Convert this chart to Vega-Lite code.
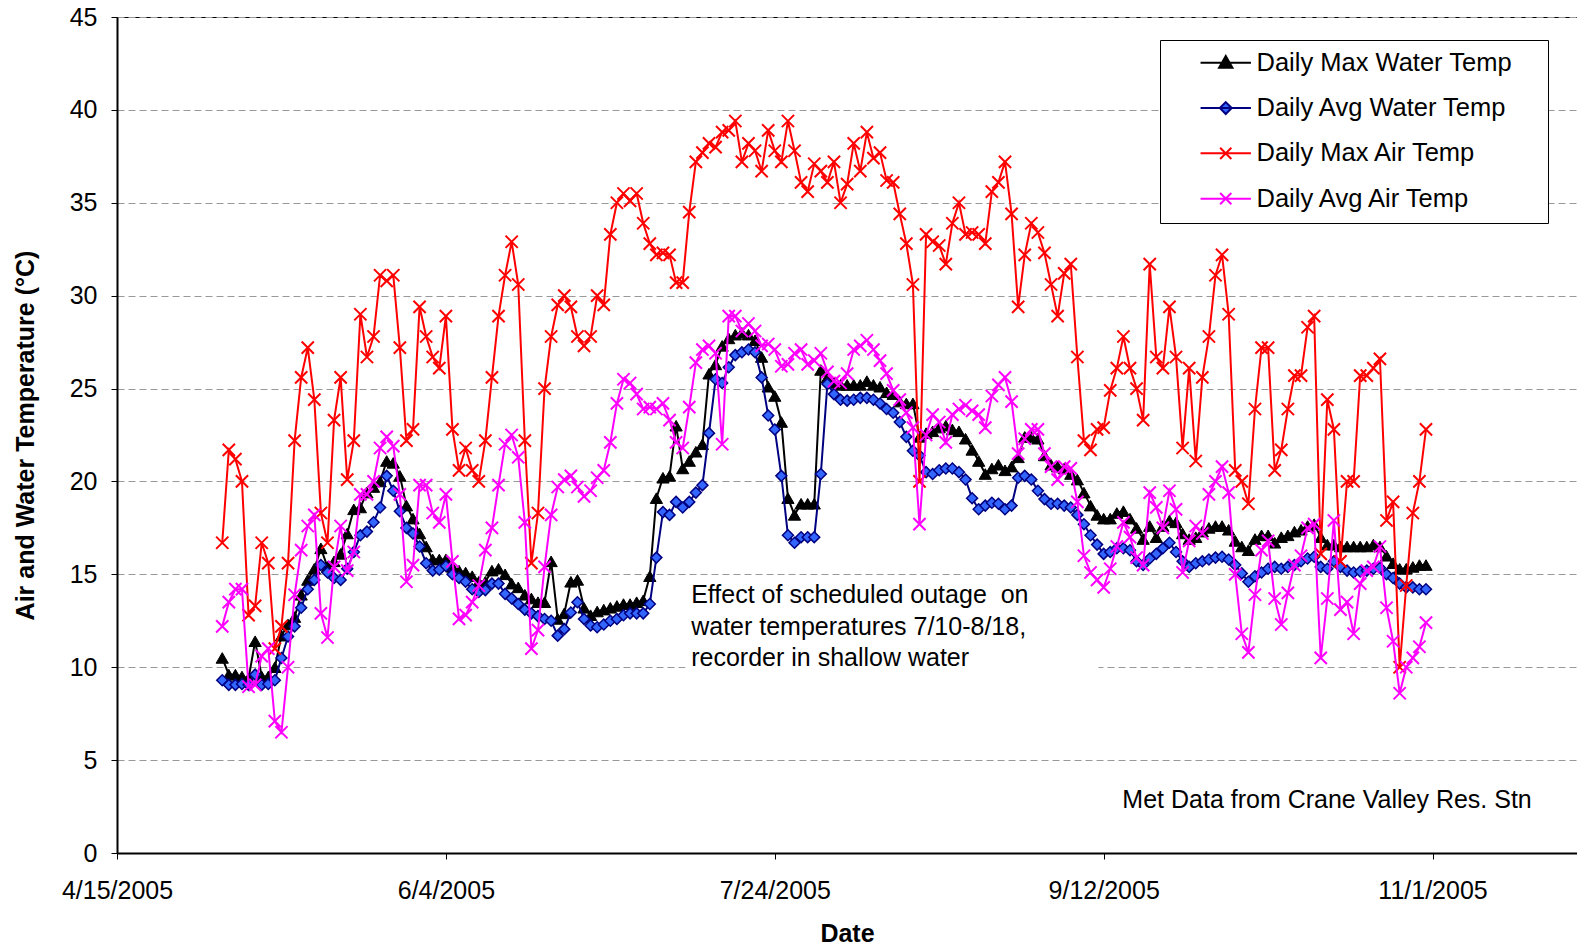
{
  "$schema": "https://vega.github.io/schema/vega-lite/v6.json",
  "width": 1460,
  "height": 836,
  "autosize": {"type": "none"},
  "padding": {"left": 117, "top": 17, "right": 0, "bottom": 93},
  "background": "#ffffff",
  "config": {
    "font": "Liberation Sans",
    "view": {"stroke": "#000000", "strokeWidth": 1},
    "axis": {"labelFont": "Liberation Sans", "labelFontSize": 25, "labelColor": "#000000", "titleFont": "Liberation Sans", "titleFontSize": 25, "titleFontWeight": "bold", "titleColor": "#000000", "domainColor": "#000000", "domainWidth": 2, "tickColor": "#000000", "tickWidth": 1, "tickSize": 6},
    "axisX": {"grid": false, "labelPadding": 19, "titlePadding": 18, "labelOverlap": false, "labelFlush": false},
    "axisY": {"grid": true, "gridColor": "#999999", "gridDash": [7, 4], "gridWidth": 1, "labelPadding": 14, "titlePadding": 31},
    "legend": {
      "orient": "none", "legendX": 1043, "legendY": 23,
      "strokeColor": "#000000", "fillColor": "#ffffff", "padding": 10,
      "labelFont": "Liberation Sans", "labelFontSize": 25.5, "labelColor": "#000000", "labelLimit": 600,
      "symbolSize": 196, "symbolStrokeWidth": 2, "symbolOpacity": 1, "symbolOffset": 43, "labelOffset": 18, "rowPadding": 18.3
    }
  },
  "layer": [
    {
      "data": {"values": [{}]},
      "mark": {"type": "rect", "fill": "#ffffff", "stroke": null},
      "encoding": {
        "x": {"datum": {"year": 2005, "month": 7, "date": 10, "hours": 10}, "type": "temporal"},
        "x2": {"datum": {"year": 2005, "month": 9, "date": 11, "hours": 5}},
        "y": {"datum": 9.3, "type": "quantitative"},
        "y2": {"datum": 14.85}
      }
    },
    {
      "data": {"values": [{}]},
      "mark": {"type": "text", "align": "left", "baseline": "alphabetic", "font": "Liberation Sans", "fontSize": 25, "lineHeight": 31.3, "color": "#000000"},
      "encoding": {
        "x": {"datum": {"year": 2005, "month": 7, "date": 11, "hours": 7}, "type": "temporal"},
        "y": {"datum": 13.44, "type": "quantitative"},
        "text": {"value": ["Effect of scheduled outage\u00a0 on", "water temperatures 7/10-8/18,", "recorder in shallow water"]}
      }
    },
    {
      "data": {"values": [{}]},
      "mark": {"type": "text", "align": "right", "baseline": "middle", "font": "Liberation Sans", "fontSize": 25, "color": "#000000"},
      "encoding": {
        "x": {"datum": {"year": 2005, "month": 11, "date": 16, "hours": 2}, "type": "temporal"},
        "y": {"datum": 2.87, "type": "quantitative"},
        "text": {"value": "Met Data from Crane Valley Res. Stn"}
      }
    },
    {
      "data": {
        "format": {"parse": {"date": "date:'%Y-%m-%d'"}},
        "values": [
{"date":"2005-05-01","Daily Max Water Temp":10.5,"Daily Avg Water Temp":9.3,"Daily Max Air Temp":16.7,"Daily Avg Air Temp":12.2},
{"date":"2005-05-02","Daily Max Water Temp":9.6,"Daily Avg Water Temp":9.05,"Daily Max Air Temp":21.7,"Daily Avg Air Temp":13.5},
{"date":"2005-05-03","Daily Max Water Temp":9.6,"Daily Avg Water Temp":9.05,"Daily Max Air Temp":21.2,"Daily Avg Air Temp":14.2},
{"date":"2005-05-04","Daily Max Water Temp":9.5,"Daily Avg Water Temp":9.1,"Daily Max Air Temp":20.0,"Daily Avg Air Temp":14.2},
{"date":"2005-05-05","Daily Max Water Temp":9.4,"Daily Avg Water Temp":9.05,"Daily Max Air Temp":12.8,"Daily Avg Air Temp":8.95},
{"date":"2005-05-06","Daily Max Water Temp":11.4,"Daily Avg Water Temp":9.6,"Daily Max Air Temp":13.3,"Daily Avg Air Temp":9.05},
{"date":"2005-05-07","Daily Max Water Temp":9.5,"Daily Avg Water Temp":9.05,"Daily Max Air Temp":16.7,"Daily Avg Air Temp":10.6},
{"date":"2005-05-08","Daily Max Water Temp":9.5,"Daily Avg Water Temp":9.1,"Daily Max Air Temp":15.6,"Daily Avg Air Temp":11.0},
{"date":"2005-05-09","Daily Max Water Temp":10.0,"Daily Avg Water Temp":9.3,"Daily Max Air Temp":11.0,"Daily Avg Air Temp":7.1},
{"date":"2005-05-10","Daily Max Water Temp":11.7,"Daily Avg Water Temp":10.5,"Daily Max Air Temp":12.2,"Daily Avg Air Temp":6.5},
{"date":"2005-05-11","Daily Max Water Temp":12.3,"Daily Avg Water Temp":11.65,"Daily Max Air Temp":15.6,"Daily Avg Air Temp":10.0},
{"date":"2005-05-12","Daily Max Water Temp":12.7,"Daily Avg Water Temp":12.2,"Daily Max Air Temp":22.2,"Daily Avg Air Temp":13.9},
{"date":"2005-05-13","Daily Max Water Temp":13.9,"Daily Avg Water Temp":13.2,"Daily Max Air Temp":25.6,"Daily Avg Air Temp":16.3},
{"date":"2005-05-14","Daily Max Water Temp":14.7,"Daily Avg Water Temp":14.2,"Daily Max Air Temp":27.2,"Daily Avg Air Temp":17.6},
{"date":"2005-05-15","Daily Max Water Temp":15.3,"Daily Avg Water Temp":14.7,"Daily Max Air Temp":24.4,"Daily Avg Air Temp":18.2},
{"date":"2005-05-16","Daily Max Water Temp":16.4,"Daily Avg Water Temp":15.5,"Daily Max Air Temp":18.3,"Daily Avg Air Temp":12.9},
{"date":"2005-05-17","Daily Max Water Temp":15.4,"Daily Avg Water Temp":15.1,"Daily Max Air Temp":16.7,"Daily Avg Air Temp":11.6},
{"date":"2005-05-18","Daily Max Water Temp":15.7,"Daily Avg Water Temp":14.8,"Daily Max Air Temp":23.3,"Daily Avg Air Temp":15.4},
{"date":"2005-05-19","Daily Max Water Temp":16.1,"Daily Avg Water Temp":14.7,"Daily Max Air Temp":25.6,"Daily Avg Air Temp":17.6},
{"date":"2005-05-20","Daily Max Water Temp":17.2,"Daily Avg Water Temp":15.3,"Daily Max Air Temp":20.1,"Daily Avg Air Temp":15.2},
{"date":"2005-05-21","Daily Max Water Temp":18.5,"Daily Avg Water Temp":16.2,"Daily Max Air Temp":22.2,"Daily Avg Air Temp":16.2},
{"date":"2005-05-22","Daily Max Water Temp":18.6,"Daily Avg Water Temp":17.1,"Daily Max Air Temp":29.0,"Daily Avg Air Temp":19.3},
{"date":"2005-05-23","Daily Max Water Temp":19.4,"Daily Avg Water Temp":17.3,"Daily Max Air Temp":26.7,"Daily Avg Air Temp":19.3},
{"date":"2005-05-24","Daily Max Water Temp":19.7,"Daily Avg Water Temp":17.8,"Daily Max Air Temp":27.8,"Daily Avg Air Temp":20.0},
{"date":"2005-05-25","Daily Max Water Temp":20.0,"Daily Avg Water Temp":18.6,"Daily Max Air Temp":31.1,"Daily Avg Air Temp":21.8},
{"date":"2005-05-26","Daily Max Water Temp":21.1,"Daily Avg Water Temp":20.3,"Daily Max Air Temp":30.8,"Daily Avg Air Temp":22.4},
{"date":"2005-05-27","Daily Max Water Temp":21.0,"Daily Avg Water Temp":19.5,"Daily Max Air Temp":31.1,"Daily Avg Air Temp":21.9},
{"date":"2005-05-28","Daily Max Water Temp":20.3,"Daily Avg Water Temp":18.4,"Daily Max Air Temp":27.2,"Daily Avg Air Temp":19.3},
{"date":"2005-05-29","Daily Max Water Temp":18.7,"Daily Avg Water Temp":17.5,"Daily Max Air Temp":22.2,"Daily Avg Air Temp":14.6},
{"date":"2005-05-30","Daily Max Water Temp":18.0,"Daily Avg Water Temp":17.2,"Daily Max Air Temp":22.8,"Daily Avg Air Temp":15.5},
{"date":"2005-05-31","Daily Max Water Temp":17.2,"Daily Avg Water Temp":16.5,"Daily Max Air Temp":29.4,"Daily Avg Air Temp":19.8},
{"date":"2005-06-01","Daily Max Water Temp":16.5,"Daily Avg Water Temp":15.6,"Daily Max Air Temp":27.8,"Daily Avg Air Temp":19.8},
{"date":"2005-06-02","Daily Max Water Temp":15.8,"Daily Avg Water Temp":15.2,"Daily Max Air Temp":26.7,"Daily Avg Air Temp":18.3},
{"date":"2005-06-03","Daily Max Water Temp":15.8,"Daily Avg Water Temp":15.25,"Daily Max Air Temp":26.1,"Daily Avg Air Temp":17.8},
{"date":"2005-06-04","Daily Max Water Temp":15.8,"Daily Avg Water Temp":15.45,"Daily Max Air Temp":28.9,"Daily Avg Air Temp":19.3},
{"date":"2005-06-05","Daily Max Water Temp":15.4,"Daily Avg Water Temp":15.0,"Daily Max Air Temp":22.8,"Daily Avg Air Temp":15.7},
{"date":"2005-06-06","Daily Max Water Temp":15.2,"Daily Avg Water Temp":14.8,"Daily Max Air Temp":20.6,"Daily Avg Air Temp":12.6},
{"date":"2005-06-07","Daily Max Water Temp":15.1,"Daily Avg Water Temp":14.6,"Daily Max Air Temp":21.8,"Daily Avg Air Temp":12.8},
{"date":"2005-06-08","Daily Max Water Temp":14.9,"Daily Avg Water Temp":14.2,"Daily Max Air Temp":20.6,"Daily Avg Air Temp":13.5},
{"date":"2005-06-09","Daily Max Water Temp":14.6,"Daily Avg Water Temp":14.05,"Daily Max Air Temp":20.0,"Daily Avg Air Temp":14.4},
{"date":"2005-06-10","Daily Max Water Temp":14.6,"Daily Avg Water Temp":14.15,"Daily Max Air Temp":22.2,"Daily Avg Air Temp":16.3},
{"date":"2005-06-11","Daily Max Water Temp":15.2,"Daily Avg Water Temp":14.5,"Daily Max Air Temp":25.6,"Daily Avg Air Temp":17.5},
{"date":"2005-06-12","Daily Max Water Temp":15.3,"Daily Avg Water Temp":14.5,"Daily Max Air Temp":28.9,"Daily Avg Air Temp":19.8},
{"date":"2005-06-13","Daily Max Water Temp":15.0,"Daily Avg Water Temp":13.95,"Daily Max Air Temp":31.1,"Daily Avg Air Temp":22.0},
{"date":"2005-06-14","Daily Max Water Temp":14.5,"Daily Avg Water Temp":13.7,"Daily Max Air Temp":32.9,"Daily Avg Air Temp":22.5},
{"date":"2005-06-15","Daily Max Water Temp":14.3,"Daily Avg Water Temp":13.4,"Daily Max Air Temp":30.6,"Daily Avg Air Temp":21.3},
{"date":"2005-06-16","Daily Max Water Temp":13.9,"Daily Avg Water Temp":13.1,"Daily Max Air Temp":22.2,"Daily Avg Air Temp":17.8},
{"date":"2005-06-17","Daily Max Water Temp":13.7,"Daily Avg Water Temp":12.9,"Daily Max Air Temp":15.6,"Daily Avg Air Temp":11.0},
{"date":"2005-06-18","Daily Max Water Temp":13.5,"Daily Avg Water Temp":12.75,"Daily Max Air Temp":18.3,"Daily Avg Air Temp":12.0},
{"date":"2005-06-19","Daily Max Water Temp":13.5,"Daily Avg Water Temp":12.6,"Daily Max Air Temp":25.0,"Daily Avg Air Temp":15.4},
{"date":"2005-06-20","Daily Max Water Temp":15.7,"Daily Avg Water Temp":12.5,"Daily Max Air Temp":27.8,"Daily Avg Air Temp":18.2},
{"date":"2005-06-21","Daily Max Water Temp":12.6,"Daily Avg Water Temp":11.7,"Daily Max Air Temp":29.5,"Daily Avg Air Temp":19.7},
{"date":"2005-06-22","Daily Max Water Temp":12.9,"Daily Avg Water Temp":12.05,"Daily Max Air Temp":30.0,"Daily Avg Air Temp":20.1},
{"date":"2005-06-23","Daily Max Water Temp":14.6,"Daily Avg Water Temp":12.95,"Daily Max Air Temp":29.4,"Daily Avg Air Temp":20.3},
{"date":"2005-06-24","Daily Max Water Temp":14.7,"Daily Avg Water Temp":13.5,"Daily Max Air Temp":27.8,"Daily Avg Air Temp":19.7},
{"date":"2005-06-25","Daily Max Water Temp":13.2,"Daily Avg Water Temp":12.6,"Daily Max Air Temp":27.3,"Daily Avg Air Temp":19.2},
{"date":"2005-06-26","Daily Max Water Temp":12.8,"Daily Avg Water Temp":12.25,"Daily Max Air Temp":27.8,"Daily Avg Air Temp":19.5},
{"date":"2005-06-27","Daily Max Water Temp":13.0,"Daily Avg Water Temp":12.15,"Daily Max Air Temp":30.0,"Daily Avg Air Temp":20.2},
{"date":"2005-06-28","Daily Max Water Temp":13.1,"Daily Avg Water Temp":12.3,"Daily Max Air Temp":29.5,"Daily Avg Air Temp":20.6},
{"date":"2005-06-29","Daily Max Water Temp":13.2,"Daily Avg Water Temp":12.5,"Daily Max Air Temp":33.3,"Daily Avg Air Temp":22.1},
{"date":"2005-06-30","Daily Max Water Temp":13.3,"Daily Avg Water Temp":12.6,"Daily Max Air Temp":35.0,"Daily Avg Air Temp":24.2},
{"date":"2005-07-01","Daily Max Water Temp":13.4,"Daily Avg Water Temp":12.8,"Daily Max Air Temp":35.5,"Daily Avg Air Temp":25.5},
{"date":"2005-07-02","Daily Max Water Temp":13.4,"Daily Avg Water Temp":12.9,"Daily Max Air Temp":35.1,"Daily Avg Air Temp":25.3},
{"date":"2005-07-03","Daily Max Water Temp":13.5,"Daily Avg Water Temp":12.9,"Daily Max Air Temp":35.5,"Daily Avg Air Temp":24.7},
{"date":"2005-07-04","Daily Max Water Temp":13.6,"Daily Avg Water Temp":12.9,"Daily Max Air Temp":33.9,"Daily Avg Air Temp":23.9},
{"date":"2005-07-05","Daily Max Water Temp":14.9,"Daily Avg Water Temp":13.4,"Daily Max Air Temp":32.8,"Daily Avg Air Temp":24.0},
{"date":"2005-07-06","Daily Max Water Temp":19.1,"Daily Avg Water Temp":15.9,"Daily Max Air Temp":32.2,"Daily Avg Air Temp":23.9},
{"date":"2005-07-07","Daily Max Water Temp":20.2,"Daily Avg Water Temp":18.35,"Daily Max Air Temp":32.3,"Daily Avg Air Temp":24.2},
{"date":"2005-07-08","Daily Max Water Temp":20.3,"Daily Avg Water Temp":18.2,"Daily Max Air Temp":32.2,"Daily Avg Air Temp":23.3},
{"date":"2005-07-09","Daily Max Water Temp":23.0,"Daily Avg Water Temp":18.9,"Daily Max Air Temp":30.7,"Daily Avg Air Temp":22.1},
{"date":"2005-07-10","Daily Max Water Temp":20.7,"Daily Avg Water Temp":18.6,"Daily Max Air Temp":30.7,"Daily Avg Air Temp":21.8},
{"date":"2005-07-11","Daily Max Water Temp":21.1,"Daily Avg Water Temp":18.9,"Daily Max Air Temp":34.5,"Daily Avg Air Temp":24.0},
{"date":"2005-07-12","Daily Max Water Temp":21.6,"Daily Avg Water Temp":19.4,"Daily Max Air Temp":37.2,"Daily Avg Air Temp":26.4},
{"date":"2005-07-13","Daily Max Water Temp":22.0,"Daily Avg Water Temp":19.8,"Daily Max Air Temp":37.7,"Daily Avg Air Temp":27.1},
{"date":"2005-07-14","Daily Max Water Temp":25.8,"Daily Avg Water Temp":22.6,"Daily Max Air Temp":38.2,"Daily Avg Air Temp":27.3},
{"date":"2005-07-15","Daily Max Water Temp":26.3,"Daily Avg Water Temp":25.5,"Daily Max Air Temp":38.0,"Daily Avg Air Temp":26.9},
{"date":"2005-07-16","Daily Max Water Temp":27.3,"Daily Avg Water Temp":25.3,"Daily Max Air Temp":38.8,"Daily Avg Air Temp":22.0},
{"date":"2005-07-17","Daily Max Water Temp":27.7,"Daily Avg Water Temp":26.15,"Daily Max Air Temp":38.9,"Daily Avg Air Temp":28.9},
{"date":"2005-07-18","Daily Max Water Temp":27.9,"Daily Avg Water Temp":26.8,"Daily Max Air Temp":39.4,"Daily Avg Air Temp":28.9},
{"date":"2005-07-19","Daily Max Water Temp":28.0,"Daily Avg Water Temp":26.95,"Daily Max Air Temp":37.2,"Daily Avg Air Temp":28.1},
{"date":"2005-07-20","Daily Max Water Temp":27.9,"Daily Avg Water Temp":27.1,"Daily Max Air Temp":38.2,"Daily Avg Air Temp":28.5},
{"date":"2005-07-21","Daily Max Water Temp":27.6,"Daily Avg Water Temp":26.95,"Daily Max Air Temp":37.8,"Daily Avg Air Temp":28.1},
{"date":"2005-07-22","Daily Max Water Temp":26.7,"Daily Avg Water Temp":25.6,"Daily Max Air Temp":36.7,"Daily Avg Air Temp":27.3},
{"date":"2005-07-23","Daily Max Water Temp":25.1,"Daily Avg Water Temp":23.55,"Daily Max Air Temp":38.9,"Daily Avg Air Temp":27.4},
{"date":"2005-07-24","Daily Max Water Temp":24.6,"Daily Avg Water Temp":22.8,"Daily Max Air Temp":37.8,"Daily Avg Air Temp":27.1},
{"date":"2005-07-25","Daily Max Water Temp":23.2,"Daily Avg Water Temp":20.3,"Daily Max Air Temp":37.2,"Daily Avg Air Temp":26.2},
{"date":"2005-07-26","Daily Max Water Temp":19.1,"Daily Avg Water Temp":17.1,"Daily Max Air Temp":39.4,"Daily Avg Air Temp":26.3},
{"date":"2005-07-27","Daily Max Water Temp":18.2,"Daily Avg Water Temp":16.7,"Daily Max Air Temp":37.8,"Daily Avg Air Temp":26.9},
{"date":"2005-07-28","Daily Max Water Temp":18.8,"Daily Avg Water Temp":17.0,"Daily Max Air Temp":36.1,"Daily Avg Air Temp":27.1},
{"date":"2005-07-29","Daily Max Water Temp":18.8,"Daily Avg Water Temp":17.0,"Daily Max Air Temp":35.6,"Daily Avg Air Temp":26.3},
{"date":"2005-07-30","Daily Max Water Temp":18.8,"Daily Avg Water Temp":17.0,"Daily Max Air Temp":37.1,"Daily Avg Air Temp":26.5},
{"date":"2005-07-31","Daily Max Water Temp":26.0,"Daily Avg Water Temp":20.4,"Daily Max Air Temp":36.7,"Daily Avg Air Temp":26.9},
{"date":"2005-08-01","Daily Max Water Temp":25.6,"Daily Avg Water Temp":25.25,"Daily Max Air Temp":36.1,"Daily Avg Air Temp":25.9},
{"date":"2005-08-02","Daily Max Water Temp":25.3,"Daily Avg Water Temp":24.7,"Daily Max Air Temp":37.2,"Daily Avg Air Temp":25.4},
{"date":"2005-08-03","Daily Max Water Temp":25.2,"Daily Avg Water Temp":24.4,"Daily Max Air Temp":35.0,"Daily Avg Air Temp":25.3},
{"date":"2005-08-04","Daily Max Water Temp":25.2,"Daily Avg Water Temp":24.35,"Daily Max Air Temp":36.0,"Daily Avg Air Temp":25.8},
{"date":"2005-08-05","Daily Max Water Temp":25.2,"Daily Avg Water Temp":24.4,"Daily Max Air Temp":38.2,"Daily Avg Air Temp":27.1},
{"date":"2005-08-06","Daily Max Water Temp":25.2,"Daily Avg Water Temp":24.5,"Daily Max Air Temp":36.7,"Daily Avg Air Temp":27.3},
{"date":"2005-08-07","Daily Max Water Temp":25.4,"Daily Avg Water Temp":24.5,"Daily Max Air Temp":38.8,"Daily Avg Air Temp":27.6},
{"date":"2005-08-08","Daily Max Water Temp":25.2,"Daily Avg Water Temp":24.4,"Daily Max Air Temp":37.4,"Daily Avg Air Temp":27.1},
{"date":"2005-08-09","Daily Max Water Temp":25.1,"Daily Avg Water Temp":24.2,"Daily Max Air Temp":37.7,"Daily Avg Air Temp":26.5},
{"date":"2005-08-10","Daily Max Water Temp":24.8,"Daily Avg Water Temp":23.9,"Daily Max Air Temp":36.2,"Daily Avg Air Temp":25.8},
{"date":"2005-08-11","Daily Max Water Temp":24.7,"Daily Avg Water Temp":23.7,"Daily Max Air Temp":36.1,"Daily Avg Air Temp":24.9},
{"date":"2005-08-12","Daily Max Water Temp":24.3,"Daily Avg Water Temp":23.2,"Daily Max Air Temp":34.4,"Daily Avg Air Temp":24.4},
{"date":"2005-08-13","Daily Max Water Temp":24.2,"Daily Avg Water Temp":22.4,"Daily Max Air Temp":32.8,"Daily Avg Air Temp":23.7},
{"date":"2005-08-14","Daily Max Water Temp":24.2,"Daily Avg Water Temp":21.65,"Daily Max Air Temp":30.6,"Daily Avg Air Temp":22.9},
{"date":"2005-08-15","Daily Max Water Temp":22.4,"Daily Avg Water Temp":21.4,"Daily Max Air Temp":20.0,"Daily Avg Air Temp":17.7},
{"date":"2005-08-16","Daily Max Water Temp":22.6,"Daily Avg Water Temp":20.5,"Daily Max Air Temp":33.3,"Daily Avg Air Temp":22.5},
{"date":"2005-08-17","Daily Max Water Temp":22.7,"Daily Avg Water Temp":20.4,"Daily Max Air Temp":32.9,"Daily Avg Air Temp":23.6},
{"date":"2005-08-18","Daily Max Water Temp":22.9,"Daily Avg Water Temp":20.6,"Daily Max Air Temp":32.7,"Daily Avg Air Temp":23.2},
{"date":"2005-08-19","Daily Max Water Temp":23.0,"Daily Avg Water Temp":20.7,"Daily Max Air Temp":31.7,"Daily Avg Air Temp":22.1},
{"date":"2005-08-20","Daily Max Water Temp":22.8,"Daily Avg Water Temp":20.7,"Daily Max Air Temp":33.9,"Daily Avg Air Temp":23.6},
{"date":"2005-08-21","Daily Max Water Temp":22.7,"Daily Avg Water Temp":20.5,"Daily Max Air Temp":35.0,"Daily Avg Air Temp":23.9},
{"date":"2005-08-22","Daily Max Water Temp":22.3,"Daily Avg Water Temp":20.1,"Daily Max Air Temp":33.3,"Daily Avg Air Temp":24.1},
{"date":"2005-08-23","Daily Max Water Temp":21.7,"Daily Avg Water Temp":19.1,"Daily Max Air Temp":33.4,"Daily Avg Air Temp":23.8},
{"date":"2005-08-24","Daily Max Water Temp":21.1,"Daily Avg Water Temp":18.5,"Daily Max Air Temp":33.3,"Daily Avg Air Temp":23.6},
{"date":"2005-08-25","Daily Max Water Temp":20.4,"Daily Avg Water Temp":18.7,"Daily Max Air Temp":32.8,"Daily Avg Air Temp":22.9},
{"date":"2005-08-26","Daily Max Water Temp":20.7,"Daily Avg Water Temp":18.85,"Daily Max Air Temp":35.6,"Daily Avg Air Temp":24.6},
{"date":"2005-08-27","Daily Max Water Temp":20.9,"Daily Avg Water Temp":18.8,"Daily Max Air Temp":36.1,"Daily Avg Air Temp":25.2},
{"date":"2005-08-28","Daily Max Water Temp":20.6,"Daily Avg Water Temp":18.5,"Daily Max Air Temp":37.2,"Daily Avg Air Temp":25.6},
{"date":"2005-08-29","Daily Max Water Temp":20.8,"Daily Avg Water Temp":18.7,"Daily Max Air Temp":34.4,"Daily Avg Air Temp":24.3},
{"date":"2005-08-30","Daily Max Water Temp":21.3,"Daily Avg Water Temp":20.2,"Daily Max Air Temp":29.4,"Daily Avg Air Temp":21.5},
{"date":"2005-08-31","Daily Max Water Temp":22.4,"Daily Avg Water Temp":20.3,"Daily Max Air Temp":32.2,"Daily Avg Air Temp":22.3},
{"date":"2005-09-01","Daily Max Water Temp":22.4,"Daily Avg Water Temp":20.1,"Daily Max Air Temp":33.9,"Daily Avg Air Temp":22.8},
{"date":"2005-09-02","Daily Max Water Temp":22.3,"Daily Avg Water Temp":19.5,"Daily Max Air Temp":33.4,"Daily Avg Air Temp":22.8},
{"date":"2005-09-03","Daily Max Water Temp":21.4,"Daily Avg Water Temp":19.05,"Daily Max Air Temp":32.3,"Daily Avg Air Temp":21.5},
{"date":"2005-09-04","Daily Max Water Temp":20.9,"Daily Avg Water Temp":18.8,"Daily Max Air Temp":30.6,"Daily Avg Air Temp":20.8},
{"date":"2005-09-05","Daily Max Water Temp":20.8,"Daily Avg Water Temp":18.8,"Daily Max Air Temp":28.9,"Daily Avg Air Temp":20.1},
{"date":"2005-09-06","Daily Max Water Temp":20.7,"Daily Avg Water Temp":18.7,"Daily Max Air Temp":31.2,"Daily Avg Air Temp":20.8},
{"date":"2005-09-07","Daily Max Water Temp":20.4,"Daily Avg Water Temp":18.6,"Daily Max Air Temp":31.7,"Daily Avg Air Temp":20.7},
{"date":"2005-09-08","Daily Max Water Temp":20.1,"Daily Avg Water Temp":18.2,"Daily Max Air Temp":26.7,"Daily Avg Air Temp":18.9},
{"date":"2005-09-09","Daily Max Water Temp":19.4,"Daily Avg Water Temp":17.7,"Daily Max Air Temp":22.2,"Daily Avg Air Temp":16.0},
{"date":"2005-09-10","Daily Max Water Temp":18.7,"Daily Avg Water Temp":17.1,"Daily Max Air Temp":21.7,"Daily Avg Air Temp":15.1},
{"date":"2005-09-11","Daily Max Water Temp":18.2,"Daily Avg Water Temp":16.6,"Daily Max Air Temp":22.8,"Daily Avg Air Temp":14.7},
{"date":"2005-09-12","Daily Max Water Temp":18.0,"Daily Avg Water Temp":16.1,"Daily Max Air Temp":22.9,"Daily Avg Air Temp":14.3},
{"date":"2005-09-13","Daily Max Water Temp":18.0,"Daily Avg Water Temp":16.2,"Daily Max Air Temp":24.9,"Daily Avg Air Temp":15.3},
{"date":"2005-09-14","Daily Max Water Temp":18.3,"Daily Avg Water Temp":16.4,"Daily Max Air Temp":26.1,"Daily Avg Air Temp":16.5},
{"date":"2005-09-15","Daily Max Water Temp":18.4,"Daily Avg Water Temp":16.4,"Daily Max Air Temp":27.8,"Daily Avg Air Temp":17.8},
{"date":"2005-09-16","Daily Max Water Temp":18.0,"Daily Avg Water Temp":16.3,"Daily Max Air Temp":26.1,"Daily Avg Air Temp":17.0},
{"date":"2005-09-17","Daily Max Water Temp":17.5,"Daily Avg Water Temp":15.7,"Daily Max Air Temp":25.0,"Daily Avg Air Temp":15.9},
{"date":"2005-09-18","Daily Max Water Temp":16.9,"Daily Avg Water Temp":15.5,"Daily Max Air Temp":23.3,"Daily Avg Air Temp":15.5},
{"date":"2005-09-19","Daily Max Water Temp":17.6,"Daily Avg Water Temp":15.85,"Daily Max Air Temp":31.7,"Daily Avg Air Temp":19.4},
{"date":"2005-09-20","Daily Max Water Temp":17.0,"Daily Avg Water Temp":16.1,"Daily Max Air Temp":26.7,"Daily Avg Air Temp":18.6},
{"date":"2005-09-21","Daily Max Water Temp":17.6,"Daily Avg Water Temp":16.4,"Daily Max Air Temp":26.1,"Daily Avg Air Temp":17.5},
{"date":"2005-09-22","Daily Max Water Temp":17.9,"Daily Avg Water Temp":16.7,"Daily Max Air Temp":29.4,"Daily Avg Air Temp":19.5},
{"date":"2005-09-23","Daily Max Water Temp":17.8,"Daily Avg Water Temp":16.2,"Daily Max Air Temp":26.7,"Daily Avg Air Temp":18.5},
{"date":"2005-09-24","Daily Max Water Temp":17.2,"Daily Avg Water Temp":15.7,"Daily Max Air Temp":21.8,"Daily Avg Air Temp":15.1},
{"date":"2005-09-25","Daily Max Water Temp":16.9,"Daily Avg Water Temp":15.4,"Daily Max Air Temp":26.1,"Daily Avg Air Temp":16.8},
{"date":"2005-09-26","Daily Max Water Temp":17.0,"Daily Avg Water Temp":15.6,"Daily Max Air Temp":21.1,"Daily Avg Air Temp":17.6},
{"date":"2005-09-27","Daily Max Water Temp":17.3,"Daily Avg Water Temp":15.7,"Daily Max Air Temp":25.6,"Daily Avg Air Temp":17.2},
{"date":"2005-09-28","Daily Max Water Temp":17.5,"Daily Avg Water Temp":15.8,"Daily Max Air Temp":27.8,"Daily Avg Air Temp":19.3},
{"date":"2005-09-29","Daily Max Water Temp":17.6,"Daily Avg Water Temp":15.9,"Daily Max Air Temp":31.1,"Daily Avg Air Temp":20.0},
{"date":"2005-09-30","Daily Max Water Temp":17.6,"Daily Avg Water Temp":15.95,"Daily Max Air Temp":32.2,"Daily Avg Air Temp":20.8},
{"date":"2005-10-01","Daily Max Water Temp":17.4,"Daily Avg Water Temp":15.8,"Daily Max Air Temp":29.0,"Daily Avg Air Temp":19.4},
{"date":"2005-10-02","Daily Max Water Temp":16.8,"Daily Avg Water Temp":15.5,"Daily Max Air Temp":20.6,"Daily Avg Air Temp":15.0},
{"date":"2005-10-03","Daily Max Water Temp":16.5,"Daily Avg Water Temp":15.05,"Daily Max Air Temp":20.0,"Daily Avg Air Temp":11.8},
{"date":"2005-10-04","Daily Max Water Temp":16.3,"Daily Avg Water Temp":14.6,"Daily Max Air Temp":18.8,"Daily Avg Air Temp":10.8},
{"date":"2005-10-05","Daily Max Water Temp":16.9,"Daily Avg Water Temp":14.9,"Daily Max Air Temp":23.9,"Daily Avg Air Temp":13.9},
{"date":"2005-10-06","Daily Max Water Temp":17.1,"Daily Avg Water Temp":15.1,"Daily Max Air Temp":27.2,"Daily Avg Air Temp":16.3},
{"date":"2005-10-07","Daily Max Water Temp":17.1,"Daily Avg Water Temp":15.3,"Daily Max Air Temp":27.2,"Daily Avg Air Temp":16.8},
{"date":"2005-10-08","Daily Max Water Temp":16.7,"Daily Avg Water Temp":15.4,"Daily Max Air Temp":20.6,"Daily Avg Air Temp":13.7},
{"date":"2005-10-09","Daily Max Water Temp":17.0,"Daily Avg Water Temp":15.3,"Daily Max Air Temp":21.7,"Daily Avg Air Temp":12.3},
{"date":"2005-10-10","Daily Max Water Temp":17.1,"Daily Avg Water Temp":15.4,"Daily Max Air Temp":23.9,"Daily Avg Air Temp":14.0},
{"date":"2005-10-11","Daily Max Water Temp":17.3,"Daily Avg Water Temp":15.5,"Daily Max Air Temp":25.7,"Daily Avg Air Temp":15.5},
{"date":"2005-10-12","Daily Max Water Temp":17.4,"Daily Avg Water Temp":15.7,"Daily Max Air Temp":25.7,"Daily Avg Air Temp":16.0},
{"date":"2005-10-13","Daily Max Water Temp":17.6,"Daily Avg Water Temp":15.85,"Daily Max Air Temp":28.3,"Daily Avg Air Temp":17.5},
{"date":"2005-10-14","Daily Max Water Temp":17.7,"Daily Avg Water Temp":15.95,"Daily Max Air Temp":28.9,"Daily Avg Air Temp":17.7},
{"date":"2005-10-15","Daily Max Water Temp":17.0,"Daily Avg Water Temp":15.4,"Daily Max Air Temp":16.1,"Daily Avg Air Temp":10.5},
{"date":"2005-10-16","Daily Max Water Temp":16.6,"Daily Avg Water Temp":15.3,"Daily Max Air Temp":24.4,"Daily Avg Air Temp":13.7},
{"date":"2005-10-17","Daily Max Water Temp":16.6,"Daily Avg Water Temp":15.7,"Daily Max Air Temp":22.8,"Daily Avg Air Temp":17.9},
{"date":"2005-10-18","Daily Max Water Temp":16.5,"Daily Avg Water Temp":15.4,"Daily Max Air Temp":15.7,"Daily Avg Air Temp":13.1},
{"date":"2005-10-19","Daily Max Water Temp":16.5,"Daily Avg Water Temp":15.2,"Daily Max Air Temp":20.0,"Daily Avg Air Temp":13.5},
{"date":"2005-10-20","Daily Max Water Temp":16.5,"Daily Avg Water Temp":15.1,"Daily Max Air Temp":20.0,"Daily Avg Air Temp":11.8},
{"date":"2005-10-21","Daily Max Water Temp":16.5,"Daily Avg Water Temp":15.15,"Daily Max Air Temp":25.7,"Daily Avg Air Temp":14.5},
{"date":"2005-10-22","Daily Max Water Temp":16.5,"Daily Avg Water Temp":15.2,"Daily Max Air Temp":25.7,"Daily Avg Air Temp":15.2},
{"date":"2005-10-23","Daily Max Water Temp":16.6,"Daily Avg Water Temp":15.3,"Daily Max Air Temp":26.1,"Daily Avg Air Temp":15.4},
{"date":"2005-10-24","Daily Max Water Temp":16.5,"Daily Avg Water Temp":15.35,"Daily Max Air Temp":26.6,"Daily Avg Air Temp":16.5},
{"date":"2005-10-25","Daily Max Water Temp":16.0,"Daily Avg Water Temp":15.0,"Daily Max Air Temp":17.9,"Daily Avg Air Temp":13.2},
{"date":"2005-10-26","Daily Max Water Temp":15.6,"Daily Avg Water Temp":14.8,"Daily Max Air Temp":18.9,"Daily Avg Air Temp":11.4},
{"date":"2005-10-27","Daily Max Water Temp":15.3,"Daily Avg Water Temp":14.5,"Daily Max Air Temp":10.0,"Daily Avg Air Temp":8.6},
{"date":"2005-10-28","Daily Max Water Temp":15.3,"Daily Avg Water Temp":14.3,"Daily Max Air Temp":14.4,"Daily Avg Air Temp":10.0},
{"date":"2005-10-29","Daily Max Water Temp":15.4,"Daily Avg Water Temp":14.3,"Daily Max Air Temp":18.3,"Daily Avg Air Temp":10.5},
{"date":"2005-10-30","Daily Max Water Temp":15.5,"Daily Avg Water Temp":14.2,"Daily Max Air Temp":20.0,"Daily Avg Air Temp":11.1},
{"date":"2005-10-31","Daily Max Water Temp":15.5,"Daily Avg Water Temp":14.2,"Daily Max Air Temp":22.8,"Daily Avg Air Temp":12.4}
        ]
      },
      "transform": [
        {"fold": ["Daily Max Water Temp", "Daily Avg Water Temp", "Daily Max Air Temp", "Daily Avg Air Temp"], "as": ["series", "temp"]}
      ],
      "encoding": {
        "x": {
          "field": "date", "type": "temporal", "title": "Date",
          "scale": {"domain": [{"year": 2005, "month": 4, "date": 15}, {"year": 2005, "month": 11, "date": 22, "hours": 23}]},
          "axis": {
            "format": "%-m/%-d/%Y",
            "values": [{"year": 2005, "month": 4, "date": 15}, {"year": 2005, "month": 6, "date": 4}, {"year": 2005, "month": 7, "date": 24}, {"year": 2005, "month": 9, "date": 12}, {"year": 2005, "month": 11, "date": 1}]
          }
        },
        "y": {
          "field": "temp", "type": "quantitative", "title": "Air and Water Temperature (°C)",
          "scale": {"domain": [0, 45], "nice": false},
          "axis": {"values": [0, 5, 10, 15, 20, 25, 30, 35, 40, 45], "format": "d"}
        }
      },
      "layer": [
        {
          "transform": [{"filter": "datum.temp < -100"}],
          "mark": {"type": "point"},
          "encoding": {
            "shape": {
              "field": "series", "type": "nominal",
              "scale": {"domain": ["Daily Max Water Temp", "Daily Avg Water Temp", "Daily Max Air Temp", "Daily Avg Air Temp"], "range": ["M-3.6,0H3.6M0,-0.95L0.95,0.7L-0.95,0.7Z", "M-3.6,0H3.6M0,-0.85L0.85,0L0,0.85L-0.85,0Z", "M-3.6,0H3.6M-0.8,-0.8L0.8,0.8M-0.8,0.8L0.8,-0.8", "M-3.6,0H3.6M-0.8,-0.8L0.8,0.8M-0.8,0.8L0.8,-0.8"]}
            },
            "fill": {
              "field": "series", "type": "nominal",
              "scale": {"domain": ["Daily Max Water Temp", "Daily Avg Water Temp", "Daily Max Air Temp", "Daily Avg Air Temp"], "range": ["#000000", "#3366ff", "transparent", "transparent"]}
            }
          }
        },
        {
          "transform": [{"filter": "datum.series === 'Daily Max Water Temp'"}],
          "mark": {"type": "line", "strokeWidth": 2},
          "encoding": {
            "stroke": {
              "field": "series", "type": "nominal",
              "scale": {"domain": ["Daily Max Water Temp", "Daily Avg Water Temp", "Daily Max Air Temp", "Daily Avg Air Temp"], "range": ["#000000", "#000080", "#ff0000", "#ff00ff"]},
              "legend": {"title": ".", "titleOrient": "right", "titleOpacity": 0, "titleFontSize": 25, "titleFontWeight": "normal", "titlePadding": 19}
            }
          }
        },
        {
          "transform": [{"filter": "datum.series === 'Daily Max Water Temp'"}],
          "mark": {"type": "point", "shape": "triangle-up", "filled": true, "fill": "#000000", "stroke": "#000000", "strokeWidth": 1, "size": 150, "opacity": 1}
        },
        {
          "transform": [{"filter": "datum.series === 'Daily Avg Water Temp'"}],
          "mark": {"type": "line", "strokeWidth": 2},
          "encoding": {
            "stroke": {"field": "series", "type": "nominal", "scale": {"domain": ["Daily Max Water Temp", "Daily Avg Water Temp", "Daily Max Air Temp", "Daily Avg Air Temp"], "range": ["#000000", "#000080", "#ff0000", "#ff00ff"]}}
          }
        },
        {
          "transform": [{"filter": "datum.series === 'Daily Avg Water Temp'"}],
          "mark": {"type": "point", "shape": "diamond", "filled": true, "fill": "#3366ff", "stroke": "#000080", "strokeWidth": 1.5, "size": 120, "opacity": 1}
        },
        {
          "transform": [{"filter": "datum.series === 'Daily Max Air Temp'"}],
          "mark": {"type": "line", "strokeWidth": 2},
          "encoding": {
            "stroke": {"field": "series", "type": "nominal", "scale": {"domain": ["Daily Max Water Temp", "Daily Avg Water Temp", "Daily Max Air Temp", "Daily Avg Air Temp"], "range": ["#000000", "#000080", "#ff0000", "#ff00ff"]}}
          }
        },
        {
          "transform": [{"filter": "datum.series === 'Daily Max Air Temp'"}],
          "mark": {"type": "point", "shape": "M-1,-1L1,1M-1,1L1,-1", "filled": false, "stroke": "#ff0000", "strokeWidth": 2, "size": 150, "opacity": 1}
        },
        {
          "transform": [{"filter": "datum.series === 'Daily Avg Air Temp'"}],
          "mark": {"type": "line", "strokeWidth": 2},
          "encoding": {
            "stroke": {"field": "series", "type": "nominal", "scale": {"domain": ["Daily Max Water Temp", "Daily Avg Water Temp", "Daily Max Air Temp", "Daily Avg Air Temp"], "range": ["#000000", "#000080", "#ff0000", "#ff00ff"]}}
          }
        },
        {
          "transform": [{"filter": "datum.series === 'Daily Avg Air Temp'"}],
          "mark": {"type": "point", "shape": "M-1,-1L1,1M-1,1L1,-1", "filled": false, "stroke": "#ff00ff", "strokeWidth": 2, "size": 150, "opacity": 1}
        }
      ]
    }
  ]
}
